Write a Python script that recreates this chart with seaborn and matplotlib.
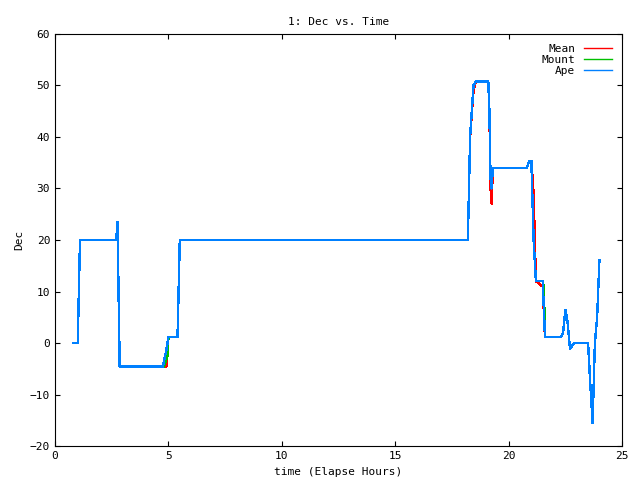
import matplotlib
matplotlib.use("Agg")
import matplotlib.pyplot as plt
import seaborn as sns
import pandas as pd

ape_t = [0.8, 1.0, 1.1, 2.7, 2.75, 2.8, 2.85, 4.75, 4.9, 5.0, 5.4, 5.5, 18.2, 18.3, 18.45, 18.55, 19.1, 19.15, 19.2, 19.25, 19.3, 20.8, 20.9, 21.0, 21.1, 21.2, 21.5, 21.6, 22.3, 22.4, 22.5, 22.6, 22.7, 22.9, 23.5, 23.6, 23.7, 23.8, 23.9, 24.0]
ape_y = [0, 0, 20, 20, 23.5, 10, -4.5, -4.5, -1.5, 1.2, 1.2, 20, 20, 40, 50, 50.7, 50.7, 45, 32, 30, 34, 34, 35.3, 35.3, 20, 12, 12, 1.2, 1.2, 2, 6.5, 4, -1, 0, 0, -8, -15.5, 0, 5, 16]
mean_t = [0.8, 1.0, 1.1, 2.7, 2.75, 2.8, 2.85, 4.9, 4.92, 5.0, 5.4, 5.5, 18.2, 18.3, 18.45, 18.55, 19.1, 19.15, 19.2, 19.25, 19.3, 20.8, 20.9, 21.0, 21.1, 21.2, 21.5, 21.6, 22.3, 22.4, 22.5, 22.6, 22.7, 22.9, 23.5, 23.6, 23.7, 23.8, 23.9, 24.0]
mean_y = [0, 0, 20, 20, 23.5, 10, -4.5, -4.5, -4.5, 1.2, 1.2, 20, 20, 40, 49, 50.7, 50.7, 45, 30, 27, 34, 34, 35.3, 35.3, 29, 12, 11, 1.2, 1.2, 2, 6.5, 4, -1, 0, 0, -8, -15.5, 0, 5, 16]
mount_t = [0.8, 1.0, 1.1, 2.7, 2.75, 2.8, 2.85, 4.8, 4.95, 5.0, 5.4, 5.5, 18.2, 18.3, 18.45, 18.55, 19.1, 19.15, 19.2, 19.25, 19.3, 20.8, 20.9, 21.0, 21.1, 21.2, 21.5, 21.55, 21.6, 22.3, 22.4, 22.5, 22.6, 22.7, 22.9, 23.5, 23.6, 23.7, 23.8, 23.9, 24.0]
mount_y = [0, 0, 20, 20, 23.5, 10, -4.5, -4.5, -2.5, 1.2, 1.2, 20, 20, 40, 50, 50.7, 50.7, 45, 32, 30, 34, 34, 35.3, 35.3, 20, 12, 12, 11, 1.2, 1.2, 2, 6.5, 4, -1, 0, 0, -8, -15.5, 0, 5, 16]

plt.rcParams['font.family'] = ['DejaVu Sans Mono']
fig, ax = plt.subplots(figsize=(6.4, 4.8), dpi=100)
for t, y, c, lab in [(mean_t, mean_y, "#ff0000", "Mean"), (mount_t, mount_y, "#00c000", "Mount"), (ape_t, ape_y, "#0080ff", "Ape")]:
    df = pd.DataFrame({"t": t, "y": y})
    sns.lineplot(data=df, x="t", y="y", sort=False, color=c, lw=1, label=lab, ax=ax,
                 estimator=None, antialiased=False)
ax.set_xlim(0, 25)
ax.set_ylim(-20, 60)
ax.set_xticks(range(0, 26, 5))
ax.set_yticks(range(-20, 61, 10))
ax.tick_params(direction="in", labelsize=8, top=True, right=True)
ax.set_xlabel("time (Elapse Hours)", fontsize=8)
ax.set_ylabel("Dec", fontsize=8)
ax.set_title("1: Dec vs. Time", fontsize=8)
leg = ax.legend(loc="upper right", frameon=False, fontsize=8, markerfirst=False, handlelength=2.5, labelspacing=0.1)
for t in leg.get_texts():
    t.set_ha("right")
plt.subplots_adjust(left=0.086, right=0.972, bottom=0.07, top=0.93)
fig.savefig("out.png")
